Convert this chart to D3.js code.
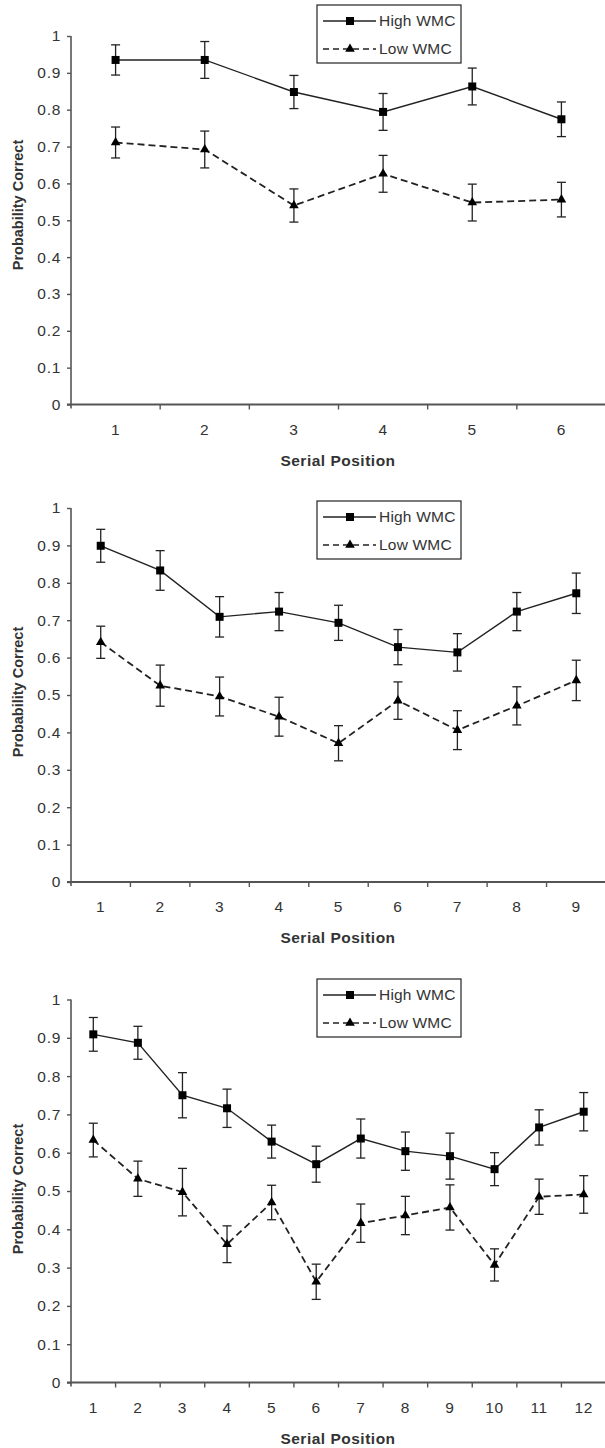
<!DOCTYPE html>
<html>
<head>
<meta charset="utf-8">
<script src="https://cdn.jsdelivr.net/npm/d3@7"></script>
<style>
  html, body { margin: 0; padding: 0; background: #fff; }
  svg { display: block; }
</style>
</head>
<body>
<svg id="chart" width="605" height="1448"></svg>
<script>
// ---- Data ----
const seriesNames = ["High WMC", "Low WMC"];
const yTicks = [0, 0.1, 0.2, 0.3, 0.4, 0.5, 0.6, 0.7, 0.8, 0.9, 1];
const xTitle = "Serial Position";
const yTitle = "Probability Correct";

const positions1 = [1, 2, 3, 4, 5, 6];
const high1 = [0.935, 0.935, 0.848, 0.794, 0.863, 0.774];
const high1Err = [0.041, 0.050, 0.045, 0.050, 0.050, 0.047];
const low1 = [0.711, 0.692, 0.540, 0.626, 0.548, 0.556];
const low1Err = [0.042, 0.050, 0.045, 0.050, 0.050, 0.047];

const positions2 = [1, 2, 3, 4, 5, 6, 7, 8, 9];
const high2 = [0.899, 0.833, 0.709, 0.723, 0.693, 0.628, 0.614, 0.723, 0.772];
const high2Err = [0.044, 0.053, 0.054, 0.051, 0.047, 0.047, 0.050, 0.051, 0.054];
const low2 = [0.641, 0.525, 0.496, 0.442, 0.371, 0.485, 0.406, 0.471, 0.539];
const low2Err = [0.043, 0.055, 0.052, 0.052, 0.047, 0.050, 0.052, 0.051, 0.054];

const positions3 = [1, 2, 3, 4, 5, 6, 7, 8, 9, 10, 11, 12];
const high3 = [0.909, 0.887, 0.750, 0.716, 0.629, 0.570, 0.637, 0.604, 0.591, 0.557, 0.666, 0.707];
const high3Err = [0.044, 0.043, 0.059, 0.050, 0.043, 0.047, 0.051, 0.050, 0.060, 0.043, 0.046, 0.050];
const low3 = [0.633, 0.532, 0.497, 0.361, 0.470, 0.263, 0.416, 0.436, 0.457, 0.307, 0.485, 0.491];
const low3Err = [0.044, 0.046, 0.062, 0.048, 0.045, 0.046, 0.050, 0.050, 0.059, 0.042, 0.046, 0.049];

// ---- Layout ----
const panels = [
  { pos: positions1, high: high1, highErr: high1Err, low: low1, lowErr: low1Err,
    top: 36, bottom: 404.5, legendTop: 5, yTitleY: 205 },
  { pos: positions2, high: high2, highErr: high2Err, low: low2, lowErr: low2Err,
    top: 508, bottom: 882, legendTop: 501, yTitleY: 692 },
  { pos: positions3, high: high3, highErr: high3Err, low: low3, lowErr: low3Err,
    top: 999.5, bottom: 1382.5, legendTop: 979, yTitleY: 1189 }
];
const xLeft = 71, xRight = 606;
const axisColor = "#555";
const textColor = "#333";
const lineColor = "#222";
const fontFam = "Arial, 'Liberation Sans', Helvetica, sans-serif";

const svg = d3.select("#chart");

const tri = d3.symbol().type(d3.symbolTriangle).size(40);

panels.forEach(p => {
  const g = svg.append("g");
  const x = d3.scaleBand().domain(p.pos).range([xLeft, xRight]).padding(0);
  const y = d3.scaleLinear().domain([0, 1]).range([p.bottom, p.top]);
  const cx = d => x(d) + x.bandwidth() / 2;

  // Y axis
  const yAxis = g.append("g").attr("transform", `translate(${xLeft},0)`)
    .call(d3.axisLeft(y).tickValues(yTicks).tickFormat(d3.format("")).tickSize(4).tickPadding(6));
  yAxis.select(".domain").attr("stroke", axisColor).attr("stroke-width", 1.6)
    .attr("d", `M0,${p.top}V${p.bottom + 4}`);
  yAxis.selectAll(".tick line").attr("stroke", axisColor).attr("stroke-width", 1.4);
  yAxis.selectAll(".tick text").attr("fill", textColor).attr("font-size", 15.5)
    .attr("font-family", fontFam).attr("letter-spacing", "0.7px");

  // X axis (ticks at band boundaries)
  const xAxisG = g.append("g").attr("transform", `translate(0,${p.bottom})`);
  xAxisG.append("line").attr("x1", xLeft - 4).attr("x2", xRight).attr("y1", 0).attr("y2", 0)
    .attr("stroke", axisColor).attr("stroke-width", 1.8);
  const bounds = p.pos.map(d => x(d)).concat([xRight]);
  xAxisG.selectAll("line.tk").data(bounds.slice(1, -1)).join("line").attr("class", "tk")
    .attr("x1", d => d).attr("x2", d => d).attr("y1", 0).attr("y2", 5)
    .attr("stroke", axisColor).attr("stroke-width", 1.4);
  xAxisG.selectAll("text").data(p.pos).join("text")
    .attr("x", d => cx(d)).attr("y", 25).attr("dy", "0.35em")
    .attr("text-anchor", "middle").attr("fill", textColor)
    .attr("font-size", 15.5).attr("font-family", fontFam).attr("letter-spacing", "0.7px")
    .text(d => d);

  // Axis titles
  g.append("text").attr("x", 338).attr("y", p.bottom + 56).attr("dy", "0.35em")
    .attr("text-anchor", "middle").attr("font-weight", "bold").attr("font-size", 15.5)
    .attr("letter-spacing", "0.5px").attr("font-family", fontFam).attr("fill", textColor)
    .text(xTitle);
  g.append("text").attr("transform", `translate(18,${p.yTitleY}) rotate(-90)`)
    .attr("dy", "0.35em").attr("text-anchor", "middle").attr("font-weight", "bold")
    .attr("font-size", 14.5).attr("font-family", fontFam).attr("fill", textColor)
    .text(yTitle);

  // Series
  const series = [
    { vals: p.high, err: p.highErr, dash: null, width: 1.4, marker: "square" },
    { vals: p.low, err: p.lowErr, dash: "7,4", width: 1.8, marker: "triangle" }
  ];
  series.forEach(s => {
    const pts = p.pos.map((d, i) => ({ k: d, v: s.vals[i], e: s.err[i] }));
    const line = d3.line().x(d => cx(d.k)).y(d => y(d.v));
    g.append("path").datum(pts).attr("d", line).attr("fill", "none")
      .attr("stroke", lineColor).attr("stroke-width", s.width)
      .attr("stroke-dasharray", s.dash);
    // error bars
    const eb = g.append("g").attr("stroke", lineColor).attr("stroke-width", 1.3);
    eb.selectAll("line.v").data(pts).join("line").attr("class", "v")
      .attr("x1", d => cx(d.k)).attr("x2", d => cx(d.k))
      .attr("y1", d => y(d.v + d.e)).attr("y2", d => y(d.v - d.e));
    eb.selectAll("line.t").data(pts).join("line").attr("class", "t")
      .attr("x1", d => cx(d.k) - 4.5).attr("x2", d => cx(d.k) + 4.5)
      .attr("y1", d => y(d.v + d.e)).attr("y2", d => y(d.v + d.e));
    eb.selectAll("line.b").data(pts).join("line").attr("class", "b")
      .attr("x1", d => cx(d.k) - 4.5).attr("x2", d => cx(d.k) + 4.5)
      .attr("y1", d => y(d.v - d.e)).attr("y2", d => y(d.v - d.e));
    // markers
    if (s.marker === "square") {
      g.selectAll(null).data(pts).join("rect")
        .attr("x", d => cx(d.k) - 4).attr("y", d => y(d.v) - 4)
        .attr("width", 8).attr("height", 8).attr("fill", "#000");
    } else {
      g.selectAll(null).data(pts).join("path")
        .attr("transform", d => `translate(${cx(d.k)},${y(d.v)})`)
        .attr("d", tri).attr("fill", "#000");
    }
  });

  // Legend
  const lg = g.append("g").attr("transform", `translate(317,${p.legendTop})`);
  lg.append("rect").attr("x", 0).attr("y", 0).attr("width", 144).attr("height", 58)
    .attr("fill", "#fff").attr("stroke", "#333").attr("stroke-width", 1.3);
  const rows = [
    { name: seriesNames[0], dash: null, width: 1.4, marker: "square", yy: 16 },
    { name: seriesNames[1], dash: "6,4", width: 1.6, marker: "triangle", yy: 44 }
  ];
  rows.forEach(r => {
    lg.append("line").attr("x1", 6).attr("x2", 59).attr("y1", r.yy).attr("y2", r.yy)
      .attr("stroke", lineColor).attr("stroke-width", r.width).attr("stroke-dasharray", r.dash);
    if (r.marker === "square") {
      lg.append("rect").attr("x", 29).attr("y", r.yy - 4).attr("width", 8).attr("height", 8).attr("fill", "#000");
    } else {
      lg.append("path").attr("transform", `translate(33,${r.yy})`).attr("d", tri).attr("fill", "#000");
    }
    lg.append("text").attr("x", 62).attr("y", r.yy).attr("dy", "0.35em")
      .attr("font-size", 15.5).attr("font-family", fontFam).attr("fill", textColor)
      .attr("letter-spacing", "0.2px").text(r.name);
  });
});
</script>
</body>
</html>
